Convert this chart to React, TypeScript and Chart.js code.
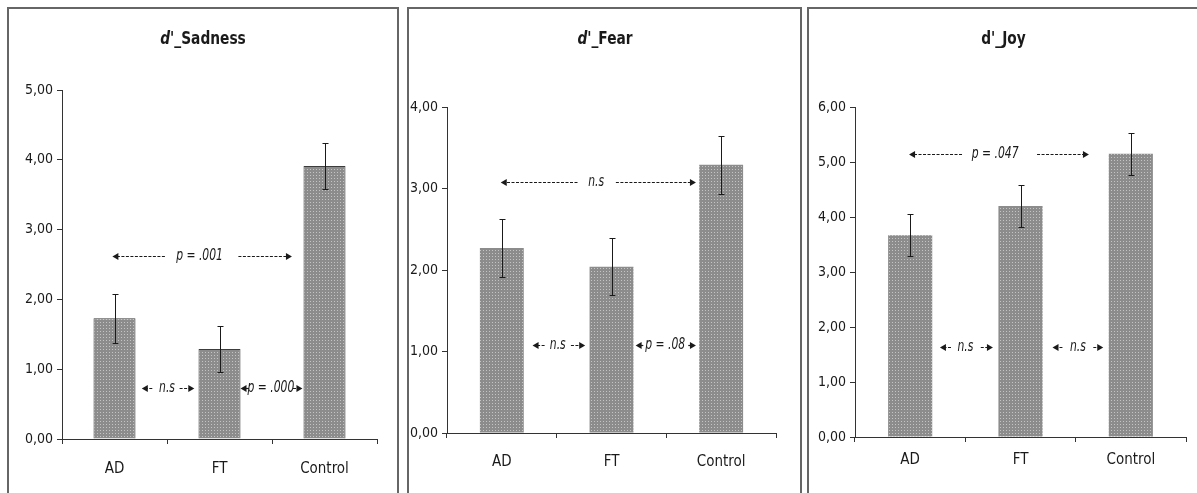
import React, { useEffect, useRef } from "react";
import { Chart, registerables } from "chart.js";

Chart.register(...registerables);

// ---------------- data ----------------
const categories = ["AD", "FT", "Control"];

const sadnessMeans = [1.73, 1.29, 3.91];
const sadnessErrors = [0.35, 0.33, 0.33];
const sadnessMax = 5;

const fearMeans = [2.27, 2.04, 3.29];
const fearErrors = [0.36, 0.35, 0.36];
const fearMax = 4;

const joyMeans = [3.67, 4.2, 5.15];
const joyErrors = [0.38, 0.38, 0.38];
const joyMax = 6;

const sadnessTitle = [
  { text: "d'", italic: true },
  { text: "_Sadness", italic: false },
];
const fearTitle = [
  { text: "d'", italic: true },
  { text: "_Fear", italic: false },
];
const joyTitle = [
  { text: "d'", italic: false },
  { text: "_Joy", italic: false },
];

// significance notes: y value, arrow spans and label position in category units
const sadnessNotes = [
  { y: 2.62, left: [-0.02, 0.48], label: "p = .001", at: 0.81, right: [1.18, 1.69] },
  { y: 0.73, left: [0.26, 0.36], label: "n.s", at: 0.5, right: [0.62, 0.76] },
  { y: 0.73, left: [1.2, 1.28], label: "p = .000", at: 1.49, right: [1.7, 1.79] },
];
const fearNotes = [
  { y: 3.08, left: [-0.01, 0.69], label: "n.s", at: 0.86, right: [1.04, 1.77] },
  { y: 1.08, left: [0.28, 0.39], label: "n.s", at: 0.51, right: [0.63, 0.76] },
  { y: 1.08, left: [1.22, 1.29], label: "p = .08", at: 1.49, right: [1.7, 1.77] },
];
const joyNotes = [
  { y: 5.14, left: [-0.01, 0.47], label: "p = .047", at: 0.77, right: [1.15, 1.62] },
  { y: 1.64, left: [0.27, 0.37], label: "n.s", at: 0.5, right: [0.64, 0.75] },
  { y: 1.64, left: [1.29, 1.38], label: "n.s", at: 1.52, right: [1.66, 1.75] },
];

// ---------------- styling ----------------
const NARROW =
  '"Liberation Sans Narrow", "Arial Narrow", "DejaVu Sans Condensed", sans-serif';
const INK = "#1a1a1a";
const AXIS = "#333333";
const CANVAS_H = 493;

function makePattern(): CanvasPattern | string {
  const c = document.createElement("canvas");
  c.width = 3;
  c.height = 3;
  const g = c.getContext("2d");
  if (!g) return "#9c9c9c";
  g.fillStyle = "#8c8c8c";
  g.fillRect(0, 0, 3, 3);
  g.fillStyle = "#c4c4c4";
  g.fillRect(1, 1, 1, 1);
  const p = g.createPattern(c, "repeat");
  return p || "#9c9c9c";
}

function drawArrow(ctx: CanvasRenderingContext2D, from: number, tip: number, y: number) {
  const dir = tip > from ? 1 : -1;
  ctx.save();
  ctx.strokeStyle = INK;
  ctx.fillStyle = INK;
  ctx.lineWidth = 1.2;
  ctx.setLineDash([3, 1.5]);
  ctx.beginPath();
  ctx.moveTo(from, y + 0.5);
  ctx.lineTo(tip - dir * 4, y + 0.5);
  ctx.stroke();
  ctx.setLineDash([]);
  ctx.beginPath();
  ctx.moveTo(tip, y + 0.5);
  ctx.lineTo(tip - dir * 6, y - 3);
  ctx.lineTo(tip - dir * 6, y + 4);
  ctx.closePath();
  ctx.fill();
  ctx.restore();
}

// narrow-looking text: draw with a horizontal squeeze
function squeezedText(
  ctx: CanvasRenderingContext2D,
  text: string,
  font: string,
  x: number,
  y: number,
  sx: number,
  align: CanvasTextAlign
) {
  ctx.save();
  ctx.font = font;
  ctx.textAlign = align;
  ctx.textBaseline = "middle";
  ctx.translate(x, y);
  ctx.scale(sx, 1);
  ctx.fillText(text, 0, 0);
  ctx.restore();
}

type Note = { y: number; left: number[]; label: string; at: number; right: number[] };
type TitlePart = { text: string; italic: boolean };
type Geom = {
  left: number;
  width: number;
  area: { left: number; right: number; top: number; bottom: number };
  labelPad: number;
};

function Panel(props: {
  means: number[];
  errors: number[];
  max: number;
  title: TitlePart[];
  notes: Note[];
  geom: Geom;
  outlined: boolean;
}) {
  const ref = useRef<HTMLCanvasElement | null>(null);
  useEffect(() => {
    const canvas = ref.current;
    if (!canvas) return;
    const { means, errors, max, title, notes, geom, outlined } = props;
    const xAxisH = 40;

    const extras = {
      id: "extras",
      afterDatasetsDraw(chart: any) {
        const ctx: CanvasRenderingContext2D = chart.ctx;
        const xs = chart.scales.x;
        const ys = chart.scales.y;
        // error bars
        const meta = chart.getDatasetMeta(0);
        ctx.save();
        ctx.strokeStyle = INK;
        ctx.lineWidth = 1;
        meta.data.forEach((bar: any, i: number) => {
          const x = Math.round(bar.x) + 0.5;
          const yt = Math.round(ys.getPixelForValue(means[i] + errors[i])) + 0.5;
          const yb = Math.round(ys.getPixelForValue(means[i] - errors[i])) + 0.5;
          ctx.beginPath();
          ctx.moveTo(x, yt);
          ctx.lineTo(x, yb);
          ctx.moveTo(x - 3, yt);
          ctx.lineTo(x + 3, yt);
          ctx.moveTo(x - 3, yb);
          ctx.lineTo(x + 3, yb);
          ctx.stroke();
        });
        ctx.restore();
        // significance notes
        const x0 = xs.getPixelForValue(0);
        const step = xs.getPixelForValue(1) - x0;
        const px = (u: number) => x0 + u * step;
        notes.forEach((n) => {
          const y = Math.round(ys.getPixelForValue(n.y));
          drawArrow(ctx, px(n.left[1]), px(n.left[0]), y);
          drawArrow(ctx, px(n.right[0]), px(n.right[1]), y);
          ctx.fillStyle = INK;
          squeezedText(ctx, n.label, `italic 15px ${NARROW}`, px(n.at), y, 0.8, "center");
        });
      },
      afterDraw(chart: any) {
        const ctx: CanvasRenderingContext2D = chart.ctx;
        const sx = 0.85;
        const fonts = title.map((p) => `${p.italic ? "italic " : ""}bold 18px ${NARROW}`);
        let total = 0;
        const widths = title.map((p, i) => {
          ctx.font = fonts[i];
          const w = ctx.measureText(p.text).width * sx;
          total += w;
          return w;
        });
        let x = chart.width / 2 - total / 2;
        title.forEach((p, i) => {
          ctx.fillStyle = INK;
          squeezedText(ctx, p.text, fonts[i], x, 39, sx, "left");
          x += widths[i];
        });
      },
    };

    const chart = new Chart(canvas, {
      type: "bar",
      data: {
        labels: categories,
        datasets: [
          {
            data: means,
            backgroundColor: makePattern() as any,
            borderColor: "#3c3c3c",
            borderWidth: outlined ? 1 : 0,
            barPercentage: 0.4,
            categoryPercentage: 1,
          },
        ],
      },
      options: {
        responsive: false,
        animation: false,
        layout: {
          padding: {
            left: 0,
            right: geom.width - geom.area.right,
            top: geom.area.top,
            bottom: CANVAS_H - geom.area.bottom - xAxisH,
          },
        },
        plugins: {
          legend: { display: false },
          title: { display: false },
          tooltip: { enabled: false },
        },
        scales: {
          x: {
            afterFit: (s: any) => {
              s.height = xAxisH;
            },
            border: { display: true, color: AXIS, width: 1 },
            grid: {
              display: true,
              offset: true,
              drawOnChartArea: false,
              drawTicks: true,
              tickLength: 5,
              color: AXIS,
            },
            ticks: {
              color: INK,
              padding: geom.labelPad,
              font: { family: NARROW, size: 15 },
            },
          },
          y: {
            min: 0,
            max: max,
            afterFit: (s: any) => {
              s.width = geom.area.left;
            },
            border: { display: true, color: AXIS, width: 1 },
            grid: {
              display: true,
              drawOnChartArea: false,
              drawTicks: true,
              tickLength: 5,
              color: AXIS,
            },
            ticks: {
              stepSize: 1,
              color: INK,
              padding: 4,
              font: { family: NARROW, size: 14 },
              callback: (v: any) => Number(v).toFixed(2).replace(".", ","),
            },
          },
        },
      },
      plugins: [extras],
    });
    return () => chart.destroy();
  }, []);

  return (
    <canvas
      ref={ref}
      width={props.geom.width}
      height={CANVAS_H}
      style={{
        position: "absolute",
        left: props.geom.left,
        top: 0,
        width: props.geom.width,
        height: CANVAS_H,
        zIndex: 2,
      }}
    />
  );
}

const frameStyle = (left: number, width: number): React.CSSProperties => ({
  position: "absolute",
  left,
  top: 7,
  width,
  height: 510,
  boxSizing: "border-box",
  border: "2px solid #666666",
  zIndex: 1,
});

export default function App() {
  return (
    <div
      style={{
        position: "absolute",
        left: 0,
        top: 0,
        width: 1197,
        height: 493,
        overflow: "hidden",
        background: "#ffffff",
      }}
    >
      <div style={frameStyle(7, 392)} />
      <div style={frameStyle(407, 395)} />
      <div style={frameStyle(807, 400)} />
      <Panel
        means={sadnessMeans}
        errors={sadnessErrors}
        max={sadnessMax}
        title={sadnessTitle}
        notes={sadnessNotes}
        outlined={true}
        geom={{ left: 9, width: 388, area: { left: 53, right: 368, top: 90, bottom: 439 }, labelPad: 16 }}
      />
      <Panel
        means={fearMeans}
        errors={fearErrors}
        max={fearMax}
        title={fearTitle}
        notes={fearNotes}
        outlined={false}
        geom={{ left: 410, width: 390, area: { left: 37, right: 366, top: 107, bottom: 433 }, labelPad: 15 }}
      />
      <Panel
        means={joyMeans}
        errors={joyErrors}
        max={joyMax}
        title={joyTitle}
        notes={joyNotes}
        outlined={false}
        geom={{ left: 810, width: 387, area: { left: 45, right: 376, top: 107, bottom: 437 }, labelPad: 9 }}
      />
    </div>
  );
}
